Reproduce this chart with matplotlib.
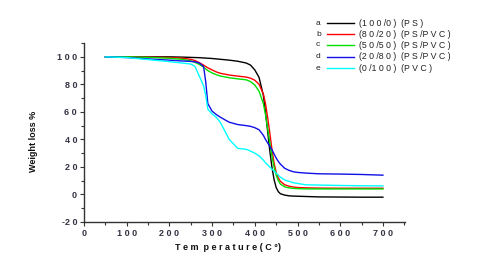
import matplotlib
matplotlib.use("Agg")
import matplotlib.pyplot as plt
from matplotlib.ticker import MultipleLocator, FixedLocator

T = [50, 100, 150, 200, 230, 250, 260, 270, 280, 285, 290, 300, 310, 320, 340, 360,
     380, 390, 400, 410, 420, 425, 430, 435, 440, 445, 450, 455, 460, 470, 480, 490,
     500, 520, 550, 600, 650, 700]

a_ps = [100, 100, 100, 100, 99.8, 99.6, 99.5, 99.4, 99.2, 99.1, 99, 98.8, 98.5, 98.2, 97.6, 96.8,
        95.5, 94, 90.5, 85, 72, 60, 46, 32, 20, 11, 5, 2, 0.5, -0.5, -1, -1.2,
        -1.3, -1.5, -1.8, -1.9, -2, -2]
b_80_20 = [100, 100, 99.8, 99.5, 99, 98.2, 97.3, 95.8, 94, 93, 92, 90.5, 89, 88, 86.8, 86,
           85.3, 84.5, 83, 80, 73, 66, 56, 45, 33, 23, 16, 12, 9.5, 7, 6, 5.4,
           5, 4.8, 4.6, 4.5, 4.5, 4.5]
c_50_50 = [100, 100, 99.6, 99, 98.2, 97, 96, 94.5, 92.5, 91.2, 90, 88.3, 87, 86, 84.8, 84,
           83.3, 82, 79.5, 75, 66, 58, 48, 38, 28, 20, 14, 10, 7.5, 5.5, 4.8, 4.4,
           4.2, 4, 4, 4, 4, 4]
d_20_80 = [100, 99.5, 98.5, 97.6, 97, 96.7, 96.4, 95.5, 93, 82, 66, 60.5, 58, 56, 52.5, 50.8,
           50, 49.5, 48.5, 47, 43, 40, 37.5, 35, 32.5, 29.5, 26.5, 24, 22, 19, 17.5, 16.5,
           16, 15.5, 15, 14.8, 14.5, 14]
e_pvc = [100, 99.5, 98, 96.5, 95.5, 94.8, 93, 86, 79, 72, 62, 58.5, 56, 52, 40, 33.5,
         32.8, 31.5, 30, 28, 25, 23, 21.5, 20, 18.5, 17, 15.5, 14, 12.5, 10.5, 9.5, 8.5,
         8, 7, 6.8, 6.5, 6.3, 6.2]

series = [a_ps, b_80_20, c_50_50, d_20_80, e_pvc]
colors = ["#000000", "#ff0000", "#00e000", "#1010e8", "#00ffff"]
letters = ["a", "b", "c", "d", "e"]
labels = ["(1 0 0 /0 )  (P S )",
          "(8 0 /2 0 )  (P S /P V C )",
          "(5 0 /5 0 )  (P S /P V C )",
          "(2 0 /8 0 )  (P S /P V C )",
          "(0 /1 0 0 )  (P V C )"]

xticks = [0, 100, 200, 300, 400, 500, 600, 700]
yticks = [-20, 0, 20, 40, 60, 80, 100]

plt.rcParams['font.family'] = ['Liberation Sans', 'DejaVu Sans']
fig = plt.figure(figsize=(4.8, 2.71), dpi=100)
ax = fig.add_axes([0.175, 0.181, 0.669, 0.66])

for y, c in zip(series, colors):
    ax.plot(T, y, color=c, lw=1.0)

ax.set_xlim(0, 752)
ax.set_ylim(-20, 110)
ax.spines['top'].set_visible(False)
ax.spines['right'].set_visible(False)
for s in ['left', 'bottom']:
    ax.spines[s].set_linewidth(1.0)
    ax.spines[s].set_color('#333333')

ax.xaxis.set_major_locator(FixedLocator(xticks))
ax.yaxis.set_major_locator(FixedLocator(yticks))
ax.xaxis.set_minor_locator(MultipleLocator(50))
ax.yaxis.set_minor_locator(MultipleLocator(10))
ax.set_xticklabels([" ".join(str(v)) for v in xticks])
ax.set_yticklabels([("-" + " ".join(str(-v))) if v < 0 else " ".join(str(v)) for v in yticks])
ax.tick_params(which='major', direction='out', length=3, width=0.8, labelsize=6.5,
               colors='#333333', labelcolor='#333344', pad=2)
ax.tick_params(which='minor', direction='out', length=2, width=0.8, colors='#333333')
for lab in ax.get_xticklabels() + ax.get_yticklabels():
    lab.set_fontweight('bold')

fig.text(0.475, 0.085, "T e m  p e r a t u r e ( C °)", ha='center', va='center',
         fontsize=6.5, fontweight='bold', color='#111111')
fig.text(0.07, 0.48, "Weight loss %", ha='center', va='center', rotation=90,
         fontsize=6.5, fontweight='bold', color='#111111')

# legend
ys = [23.3, 34.3, 45, 56.7, 68.3]
for i in range(5):
    yf = 1 - ys[i] / 271
    fig.text(316 / 480, yf, letters[i], ha='left', va='center', fontsize=6, color='#222222')
    fig.add_artist(plt.Line2D([327 / 480, 354 / 480], [yf, yf], color=colors[i], lw=1.0))
    fig.text(359 / 480, yf, labels[i], ha='left', va='center', fontsize=6.3, color='#222222')

fig.savefig("out.png", dpi=100)
